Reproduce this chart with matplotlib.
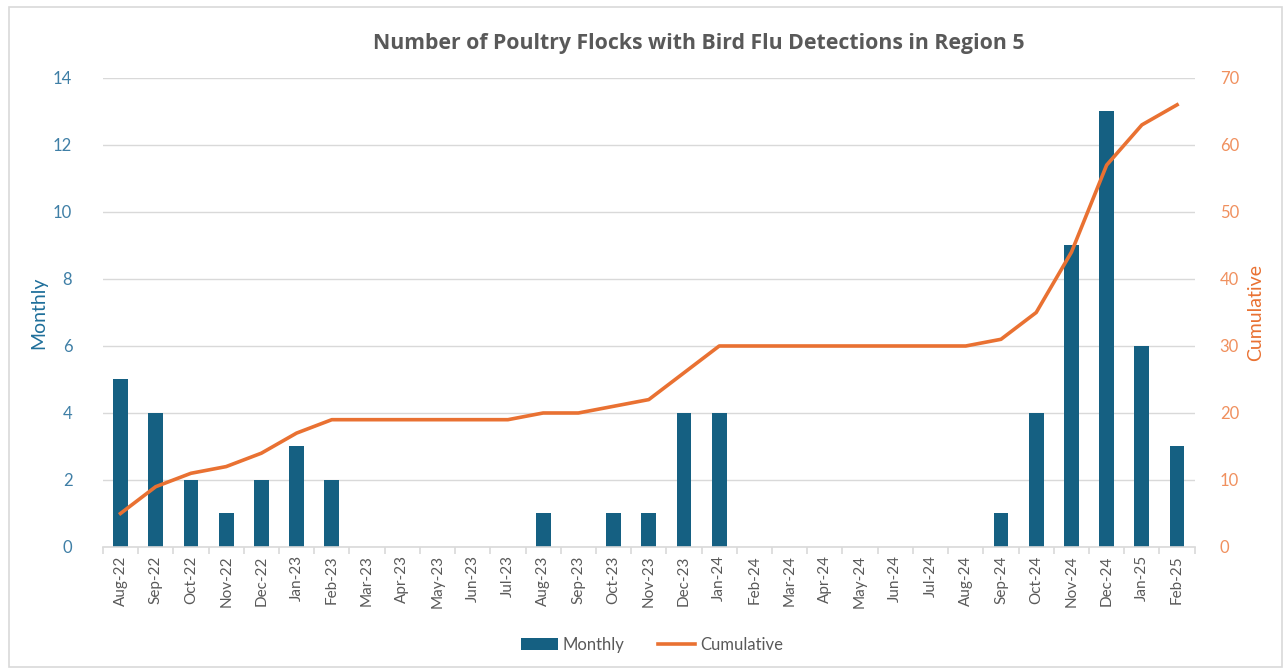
import matplotlib
matplotlib.use("Agg")
import matplotlib.pyplot as plt
from matplotlib.patches import Rectangle

months = ["Aug-22", "Sep-22", "Oct-22", "Nov-22", "Dec-22", "Jan-23", "Feb-23", "Mar-23",
          "Apr-23", "May-23", "Jun-23", "Jul-23", "Aug-23", "Sep-23", "Oct-23", "Nov-23",
          "Dec-23", "Jan-24", "Feb-24", "Mar-24", "Apr-24", "May-24", "Jun-24", "Jul-24",
          "Aug-24", "Sep-24", "Oct-24", "Nov-24", "Dec-24", "Jan-25", "Feb-25"]
monthly = [5, 4, 2, 1, 2, 3, 2, 0, 0, 0, 0, 0, 1, 0, 1, 1, 4, 4, 0, 0, 0, 0, 0, 0, 0, 1, 4, 9, 13, 6, 3]
cumulative = [5, 9, 11, 12, 14, 17, 19, 19, 19, 19, 19, 19, 20, 20, 21, 22, 26, 30, 30, 30, 30,
              30, 30, 30, 30, 31, 35, 44, 57, 63, 66]

plt.rcParams['font.family'] = ['Lato', 'DejaVu Sans']
BLUE = "#156082"
ORANGE = "#E97132"
GRAY = "#595959"

fig = plt.figure(figsize=(12.86, 6.70), dpi=100)
fig.patches.append(Rectangle((0.007, 0.004), 0.99, 0.985, transform=fig.transFigure,
                             fill=False, edgecolor="#D9D9D9", linewidth=1.2))
ax = fig.add_axes([0.080, 0.1836, 0.849, 0.700])
ax2 = ax.twinx()

x = list(range(len(months)))
ax.bar(x, monthly, width=0.42, color=BLUE, label="Monthly", zorder=2)
ax2.plot(x, cumulative, color=ORANGE, linewidth=2.6, label="Cumulative", zorder=3)

ax.set_xlim(-0.5, len(months) - 0.5)
ax.set_ylim(0, 14)
ax.set_yticks(range(0, 15, 2))
ax2.set_ylim(0, 70)
ax2.set_yticks(range(0, 71, 10))

ax.grid(axis='y', color="#D9D9D9", linewidth=1)
ax.set_axisbelow(True)
for a in (ax, ax2):
    for s in a.spines.values():
        s.set_visible(False)
ax.spines['bottom'].set_visible(True)
ax.spines['bottom'].set_color("#D9D9D9")
ax.spines['bottom'].set_linewidth(1.2)

ax.set_xticks([i - 0.5 for i in range(len(months) + 1)], minor=False)
ax.set_xticklabels([])
ax.set_xticks(x, minor=True)
ax.set_xticklabels(months, minor=True, rotation=90, fontsize=11, color=GRAY)
ax.tick_params(axis='x', which='major', length=5, color="#D9D9D9", width=1.2)
ax.tick_params(axis='x', which='minor', length=0, pad=6)

ax.tick_params(axis='y', length=0, labelsize=12, labelcolor="#3F7FA6", pad=22)
ax2.tick_params(axis='y', length=0, labelsize=12, labelcolor="#F0905E", pad=18)

ax.set_ylabel("Monthly", fontsize=14, color="#1F6F9A", labelpad=4)
ax2.set_ylabel("Cumulative", fontsize=14, color=ORANGE, labelpad=6)

fig.text(0.543, 0.935, "Number of Poultry Flocks with Bird Flu Detections in Region 5",
         ha='center', va='center', fontsize=15.3, fontweight='bold', color=GRAY,
         family=['Open Sans', 'DejaVu Sans'])

h1, l1 = ax.get_legend_handles_labels()
h2, l2 = ax2.get_legend_handles_labels()
fig.legend(h1 + h2, l1 + l2, loc='center', bbox_to_anchor=(0.507, 0.038), ncol=2,
           frameon=False, fontsize=12, labelcolor=GRAY, handlelength=2.2,
           handletextpad=0.3, columnspacing=2.0)

fig.savefig("out.png", dpi=100)
